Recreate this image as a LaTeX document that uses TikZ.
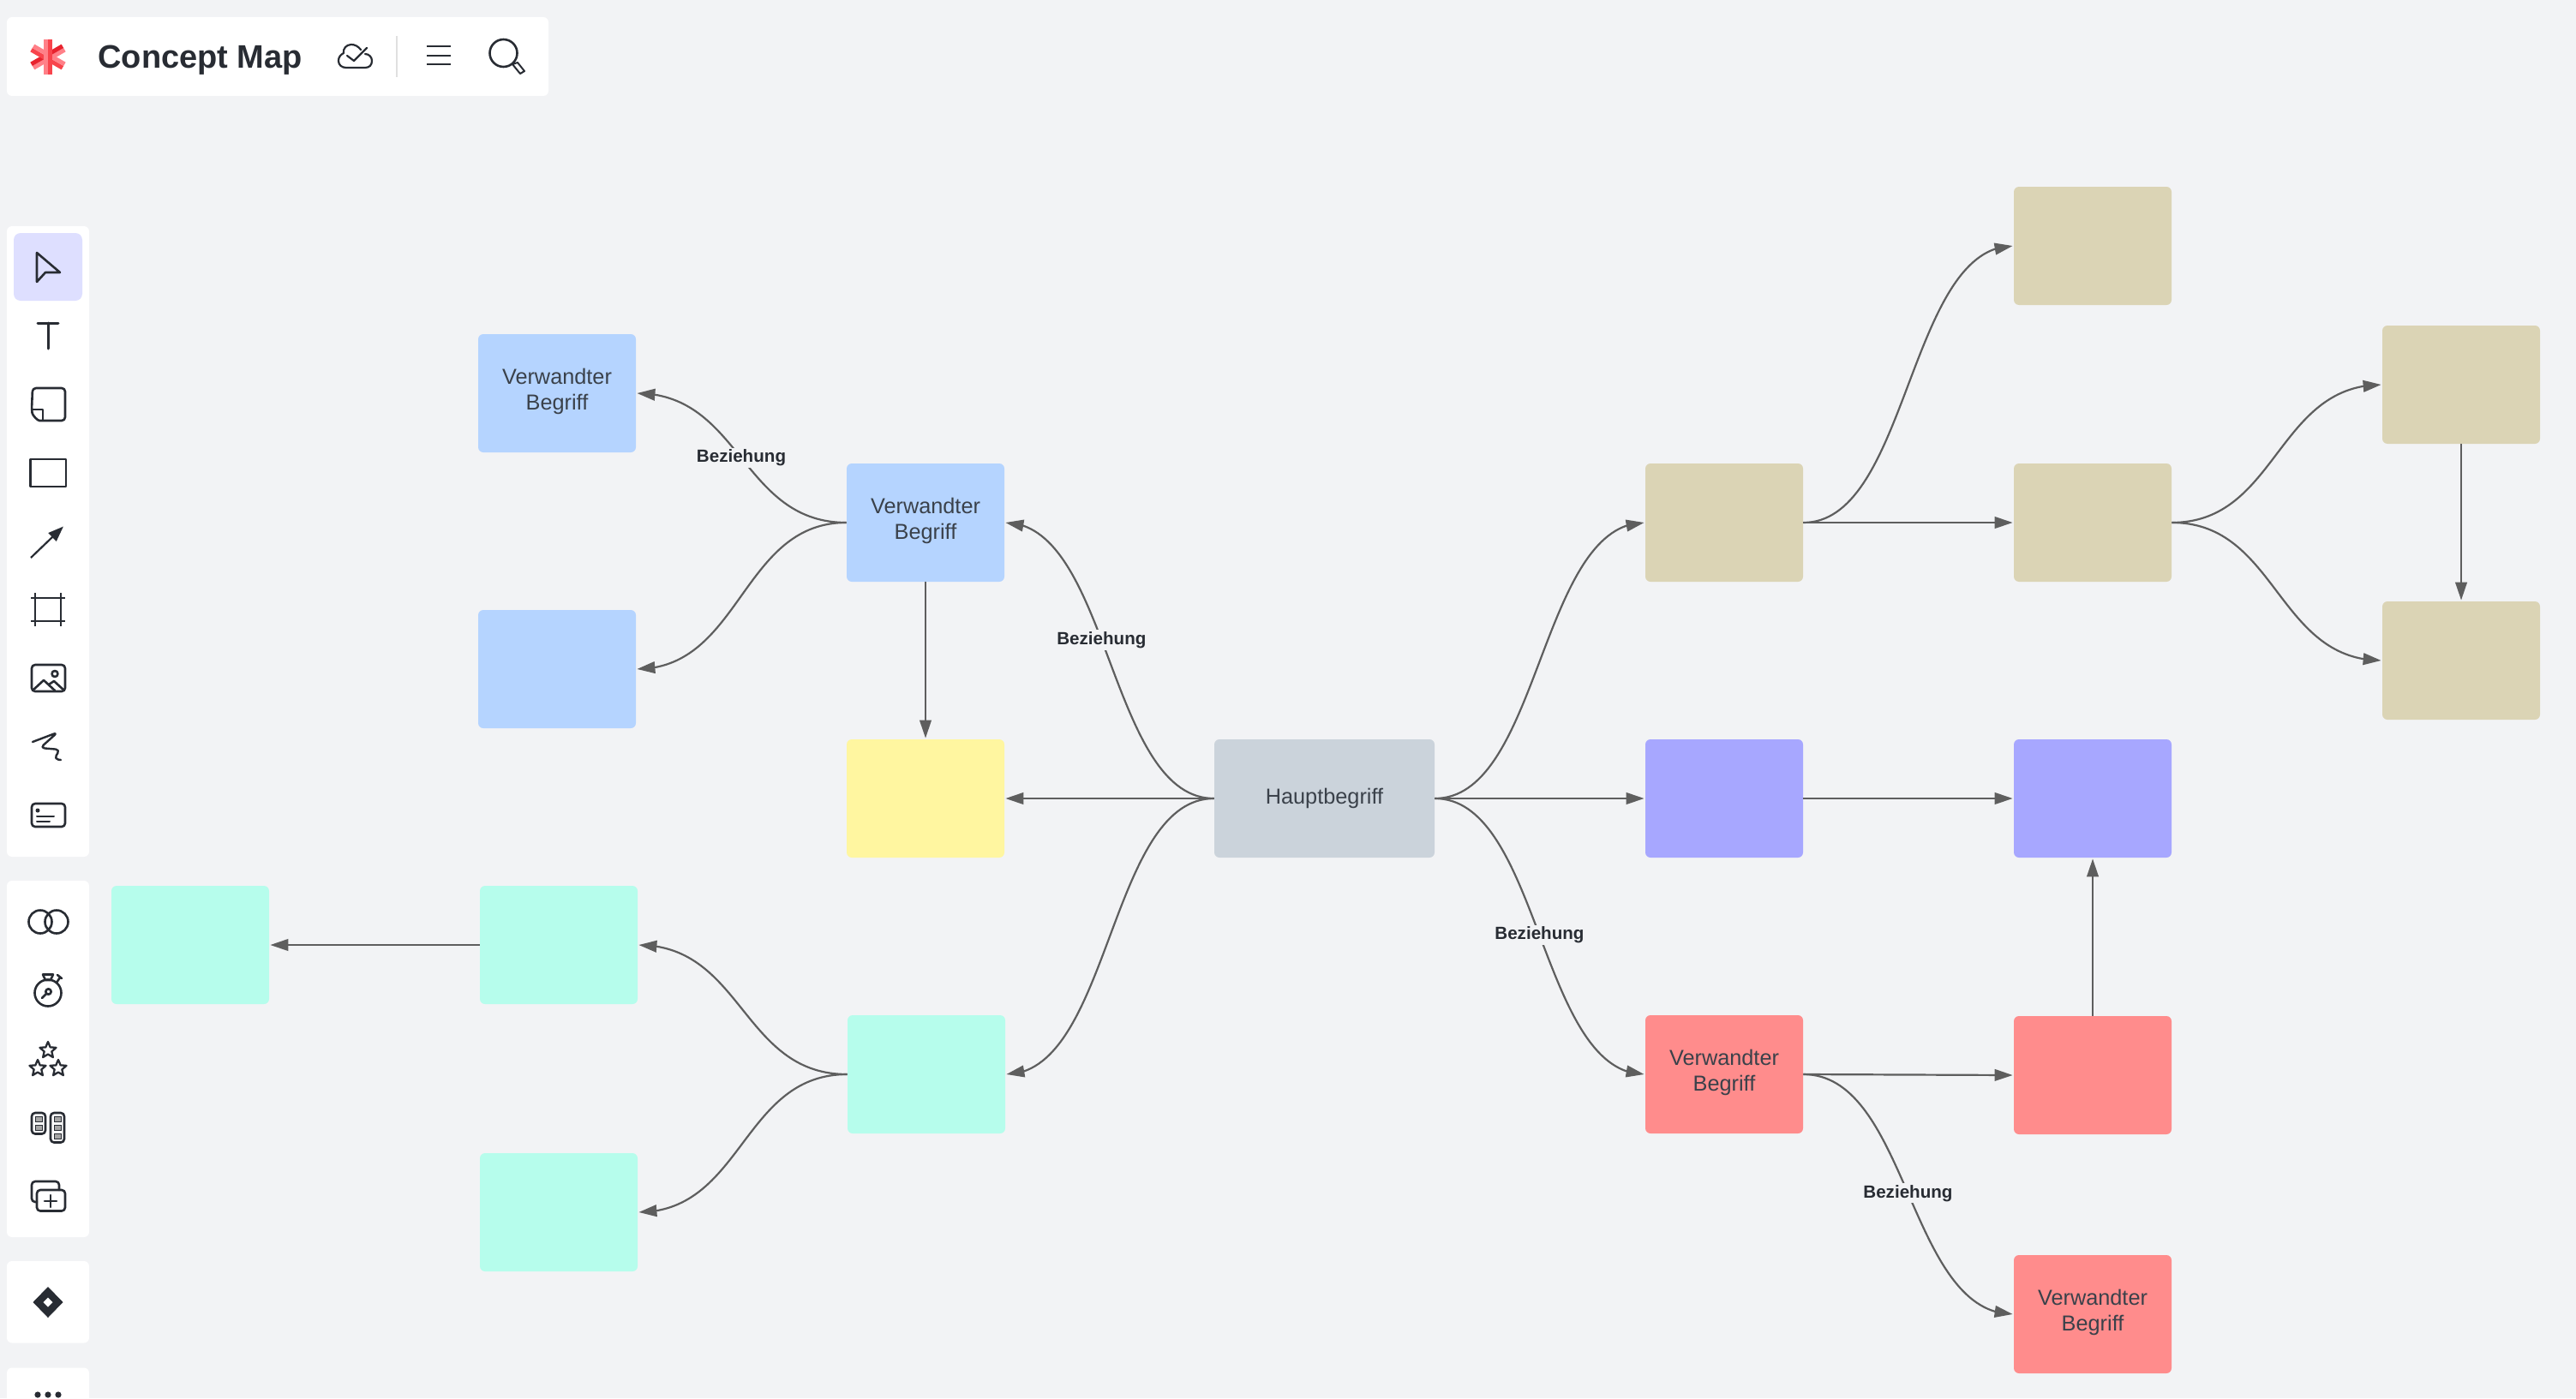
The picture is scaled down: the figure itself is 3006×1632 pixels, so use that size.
\documentclass[tikz,border=0pt]{standalone}
\usepackage{fontspec}
\setmainfont{Liberation Sans}
\usetikzlibrary{arrows.meta,bending,shapes.geometric}
\definecolor{bg}{HTML}{F2F3F5}
\definecolor{ink}{HTML}{282C33}
\definecolor{edge}{HTML}{5E5E5E}
\definecolor{txt}{HTML}{3A414A}
\definecolor{cblue}{HTML}{B5D4FF}
\definecolor{cyellow}{HTML}{FFF6A0}
\definecolor{cmain}{HTML}{CBD3DB}
\definecolor{cteal}{HTML}{B6FDEC}
\definecolor{ctan}{HTML}{DBD4B5}
\definecolor{cpurple}{HTML}{A7A7FF}
\definecolor{cred}{HTML}{FF8C8C}
\definecolor{csel}{HTML}{DEDFFF}
\definecolor{logod}{HTML}{E8232E}
\definecolor{logom}{HTML}{F8444C}
\definecolor{logol}{HTML}{FF8088}
\tikzset{
 box/.style={rectangle,rounded corners=3pt,minimum width=92pt,minimum height=69pt,inner sep=0pt,align=center,text=txt,font=\fontsize{12.65}{15.5}\selectfont},
 conn/.style={draw=edge,line width=1.1pt,-{Triangle[length=10.5pt,width=6.8pt,flex]},shorten >=.5pt},
 lab/.style={fill=bg,inner xsep=0pt,inner ysep=1pt,text=ink,font=\fontsize{10.3}{12}\selectfont\bfseries},
 panel/.style={fill=white,rounded corners=3pt},
 icon/.style={draw=ink,line width=1.3pt,line join=round,line cap=round},
 staricon/.style={icon,line width=1.15pt,star,star points=5,star point ratio=2.2,minimum size=10pt,inner sep=0pt},
}
\newcommand{\twolines}{\raisebox{.8pt}[\height][\depth]{\begin{tabular}{@{}c@{}}Verwandter\\[-.6pt]Begriff\end{tabular}}}
\begin{document}
\begin{tikzpicture}[x=0.5pt,y=-0.5pt]
\useasboundingbox (0,0) rectangle (3006,1632);
\clip (0,0) rectangle (3006,1632);
\fill[bg] (0,0) rectangle (3006,1632);
% boxes
\node[box,fill=cblue] (b1) at (650,459) {\twolines};
\node[box,fill=cblue] (b2) at (1080,610) {\twolines};
\node[box,fill=cblue] (b3) at (650,781) {};
\node[box,fill=cyellow] (y1) at (1080,932) {};
\node[box,fill=cmain,minimum width=128.5pt] (m) at (1545.5,932) {Hauptbegriff};
\node[box,fill=cteal] (t0) at (222,1103) {};
\node[box,fill=cteal] (t1) at (652,1103) {};
\node[box,fill=cteal] (t2) at (1081,1254) {};
\node[box,fill=cteal] (t3) at (652,1415) {};
\node[box,fill=ctan] (a1) at (2012,610) {};
\node[box,fill=ctan] (a2) at (2442,287) {};
\node[box,fill=ctan] (a3) at (2442,610) {};
\node[box,fill=ctan] (a4) at (2872,449) {};
\node[box,fill=ctan] (a5) at (2872,771) {};
\node[box,fill=cpurple] (p1) at (2012,932) {};
\node[box,fill=cpurple] (p2) at (2442,932) {};
\node[box,fill=cred] (r1) at (2012,1254) {\twolines};
\node[box,fill=cred] (r2) at (2442,1255) {};
\node[box,fill=cred] (r3) at (2442,1534) {\twolines};
% connectors
\draw[conn] (b2.west) .. controls +(-123,0) and +(123,0) .. node[lab,pos=.5]{Beziehung} (b1.east);
\draw[conn] (b2.west) .. controls +(-123,0) and +(123,0) .. (b3.east);
\draw[conn] (b2.south) -- (y1.north);
\draw[conn] (m.west) .. controls +(-123,0) and +(123,0) .. node[lab,pos=.55]{Beziehung} (b2.east);
\draw[conn] (m.west) -- (y1.east);
\draw[conn] (m.west) .. controls +(-123,0) and +(123,0) .. (t2.east);
\draw[conn] (t2.west) .. controls +(-123,0) and +(123,0) .. (t1.east);
\draw[conn] (t2.west) .. controls +(-123,0) and +(123,0) .. (t3.east);
\draw[conn] (t1.west) -- (t0.east);
\draw[conn] (m.east) .. controls +(123,0) and +(-123,0) .. (a1.west);
\draw[conn] (m.east) -- (p1.west);
\draw[conn] (m.east) .. controls +(123,0) and +(-123,0) .. node[lab,pos=.497]{Beziehung} (r1.west);
\draw[conn] (a1.east) .. controls +(123,0) and +(-123,0) .. (a2.west);
\draw[conn] (a1.east) -- (a3.west);
\draw[conn] (a3.east) .. controls +(123,0) and +(-123,0) .. (a4.west);
\draw[conn] (a3.east) .. controls +(123,0) and +(-123,0) .. (a5.west);
\draw[conn] (a4.south) -- (a5.north);
\draw[conn] (p1.east) -- (p2.west);
\draw[conn] (r1.east) -- (r2.west);
\draw[conn] (r2.north) -- (p2.south);
\draw[conn] (r1.east) .. controls +(123,0) and +(-123,0) .. node[lab,pos=.497]{Beziehung} (r3.west);
% top bar
\fill[panel] (8,20) rectangle (640,112);
% logo: three two-tone bars
\begin{scope}[rotate around={30:(56,66.5)}]
 \fill[logol] (35,66.5) rectangle (77,71.5);
 \fill[logod] (35,61.5) rectangle (77,66.5);
\end{scope}
\begin{scope}[rotate around={-30:(56,66.5)}]
 \fill[logom] (35,66.5) rectangle (77,71.5);
 \fill[logol] (35,61.5) rectangle (77,66.5);
\end{scope}
\fill[logol] (51,46) rectangle (56,87);
\fill[logom] (56,46) rectangle (61,87);
\node[anchor=west,text=ink,font=\fontsize{19}{22}\selectfont\bfseries,inner sep=0pt] (title) at (114,70) {Concept Map};
\draw[icon,line width=1.1pt] (421,58) .. controls (418,54) and (414,52) .. (410,52) .. controls (404,52) and (400,57) .. (401,62) .. controls (397,64) and (395,67) .. (395,71) .. controls (395,76) and (399,79) .. (404,79) -- (426,79) .. controls (431,79) and (434,76) .. (434,71) .. controls (434,67) and (431,63) .. (426,63);
\draw[icon,line width=1.1pt] (405,65) -- (413,71) -- (428,56);
\draw[draw=black!12,line width=1.2pt] (463,42) -- (463,90);
\draw[icon,line cap=butt] (498,54) -- (526,54) (498,65) -- (526,65) (498,75) -- (526,75);
\draw[icon] (587.5,62) circle (16);
\draw[icon,line width=1pt] (598,75) -- (604,73) -- (612,83) -- (607,86) -- cycle;
% left panel 1
\fill[panel] (8,264) rectangle (104,1000);
\fill[fill=csel,rounded corners=4pt] (16,272) rectangle (96,351);
\draw[icon] (43,295) -- (70,318) -- (53,318) -- (43,329) -- cycle;
\draw[icon,line width=1.5pt] (44,377) -- (68,377) (56,377) -- (56,407);
\draw[icon,rounded corners=2pt] (38,453) -- (76,453) -- (76,491) -- (50,491) .. controls (44,491) and (38,485) .. (37,478) -- cycle;
\draw[icon,line cap=butt] (38,478) -- (50,478) -- (50,491);
\draw[icon,line cap=butt] (35.5,536) rectangle (77,568);
\draw[draw=ink,line width=1.1pt,-{Triangle[length=9pt,width=6.5pt]}] (36,651) -- (74,614.5);
\draw[icon,line cap=butt] (41,692) -- (41,731) (71,692) -- (71,731) (36,698) -- (76,698) (36,725) -- (76,725);
\draw[icon,rounded corners=2pt] (37,776) rectangle (76,807);
\draw[icon] (38,806) -- (51,794) -- (64,806) (57,799) -- (63,795) -- (75,806);
\draw[icon] (64,786.5) circle (3.5);
\draw[icon,line width=1.2pt,rounded corners=2.5pt] (38,866) -- (67,855) -- (47,873) -- (70,875) -- (63,886) -- (71,887);
\draw[icon,rounded corners=2pt] (37,938) rectangle (76,965);
\fill[ink] (44,946) circle (2.5);
\draw[icon,line width=1pt] (43,953) -- (63,953) (43,959) -- (58,959);
% left panel 2
\fill[panel] (8,1028) rectangle (104,1444);
\draw[icon] (47,1076) circle (13.5) (66,1076) circle (13.5);
\draw[icon] (56,1159) circle (15.5);
\draw[icon] (50,1137.5) -- (62,1137.5) -- (59,1144) -- (53,1144) -- cycle;
\draw[icon] (66,1147) -- (70,1141) (67,1138) -- (72,1142);
\draw[icon] (56.5,1157.5) circle (3.2);
\draw[icon] (54,1160) -- (49,1165);
\node[staricon] (s1) at (56,1226) {};
\node[staricon] (s2) at (44,1247) {};
\node[staricon] (s3) at (68,1247) {};
\draw[icon,rounded corners=2pt] (37,1299) rectangle (53,1323.5);
\draw[icon,rounded corners=2pt] (59,1299) rectangle (75,1333.5);
\filldraw[fill=black!35,draw=ink,line width=.5pt] (41,1303) rectangle (49,1309) (41,1313) rectangle (49,1319);
\filldraw[fill=black!35,draw=ink,line width=.5pt] (63,1303) rectangle (71,1309) (63,1313) rectangle (71,1319) (63,1323) rectangle (71,1329);
\draw[icon,rounded corners=2pt] (43,1403) -- (37,1403) -- (37,1379) -- (69,1379) -- (69,1389);
\draw[icon,rounded corners=2pt] (43,1389) rectangle (76,1413.5);
\draw[icon] (52,1402) -- (66,1402) (59,1395) -- (59,1409);
% left panel 3
\fill[panel] (8,1472) rectangle (104,1567.5);
\fill[ink] (56,1502) -- (73.5,1520) -- (56,1538) -- (38.5,1520) -- cycle;
\fill[white] (56,1514.5) -- (61.5,1520) -- (56,1525.5) -- (50.5,1520) -- cycle;
% left panel 4
\fill[panel] (8,1596.5) rectangle (104,1660);
\fill[ink] (44,1628) circle (3.6) (56,1628) circle (3.6) (68,1628) circle (3.6);
\end{tikzpicture}
\end{document}
